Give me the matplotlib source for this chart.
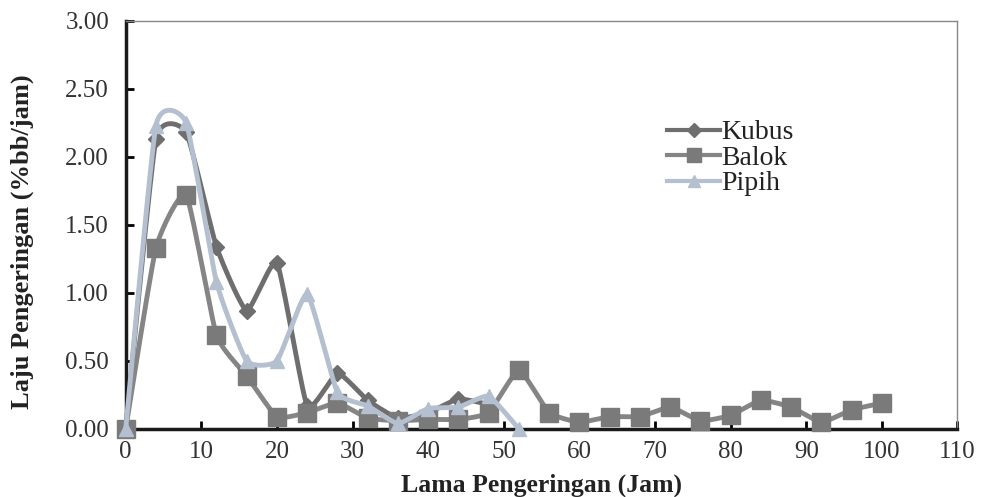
import numpy as np
import matplotlib
matplotlib.use("Agg")
import matplotlib.pyplot as plt
from matplotlib.lines import Line2D

# Data
kubus_x = [0, 4, 8, 12, 16, 20, 24, 28, 32, 36, 40, 44, 48]
kubus_y = [0.00, 2.13, 2.18, 1.34, 0.87, 1.22, 0.17, 0.41, 0.21, 0.08, 0.12, 0.22, 0.18]
balok_x = [0, 4, 8, 12, 16, 20, 24, 28, 32, 36, 40, 44, 48, 52, 56, 60, 64, 68, 72,
           76, 80, 84, 88, 92, 96, 100]
balok_y = [0.00, 1.33, 1.72, 0.69, 0.39, 0.09, 0.12, 0.19, 0.08, 0.06, 0.07, 0.07, 0.12,
           0.43, 0.12, 0.05, 0.09, 0.09, 0.16, 0.06, 0.10, 0.21, 0.16, 0.05, 0.14, 0.19]
pipih_x = [0, 4, 8, 12, 16, 20, 24, 28, 32, 36, 40, 44, 48, 52]
pipih_y = [0.00, 2.23, 2.25, 1.08, 0.50, 0.50, 0.99, 0.27, 0.17, 0.04, 0.15, 0.16, 0.24, 0.00]

xticks = list(range(0, 111, 10))
yticks = [0.0, 0.5, 1.0, 1.5, 2.0, 2.5, 3.0]


def smooth(x, y, n=30, t=0.16):
    """Bezier curve through the points (like spreadsheet smoothed lines)."""
    x = np.asarray(x, float); y = np.asarray(y, float)
    px = np.concatenate([[x[0]], x, [x[-1]]])
    py = np.concatenate([[y[0]], y, [y[-1]]])
    xs, ys = [], []
    for i in range(1, len(px) - 2):
        p0 = np.array([px[i - 1], py[i - 1]]); p1 = np.array([px[i], py[i]])
        p2 = np.array([px[i + 1], py[i + 1]]); p3 = np.array([px[i + 2], py[i + 2]])
        c1 = p1 + (p2 - p0) * t / 2.0
        c2 = p2 - (p3 - p1) * t / 2.0
        s = np.linspace(0, 1, n)[:, None]
        b = ((1 - s) ** 3) * p1 + 3 * ((1 - s) ** 2) * s * c1 + 3 * (1 - s) * s ** 2 * c2 + s ** 3 * p2
        xs.extend(b[:, 0]); ys.extend(b[:, 1])
    return np.array(xs), np.array(ys)


plt.rcParams['font.family'] = ['Liberation Serif', 'DejaVu Serif']

fig = plt.figure(figsize=(9.82, 4.97), dpi=100)
ax = fig.add_axes([0.128, 0.137, 0.847, 0.821])

c_kubus = '#6e6e6e'
c_balok = '#858585'
c_balok_m = '#7a7a7a'
c_pipih = '#b4bfcf'

series = [
    (kubus_x, kubus_y, c_kubus, c_kubus, 'D', 8.5, 'Kubus'),
    (balok_x, balok_y, c_balok, c_balok_m, 's', 12.5, 'Balok'),
    (pipih_x, pipih_y, c_pipih, c_pipih, '^', 10.5, 'Pipih'),
]
handles = []
for i, (x, y, lc, mc, m, ms, lab) in enumerate(series):
    sx, sy = smooth(x, y)
    ax.plot(sx, sy, color=lc, lw=3.5, zorder=2 + i, solid_capstyle='round', clip_on=False)
    ax.plot(x, y, ls='none', marker=m, ms=ms, color=mc, mec=mc, zorder=2 + i, clip_on=False)
    handles.append(Line2D([0], [0], color=lc, lw=3.0, marker=m, ms=ms * 0.85, mfc=mc, mec=mc))

ax.set_xlim(0, 110)
ax.set_ylim(0, 3.0)
ax.set_xticks(xticks)
ax.set_xticklabels([str(v) for v in xticks])
ax.set_yticks(yticks)
ax.set_yticklabels([f"{v:.2f}" for v in yticks])
ax.tick_params(direction='in', length=6, width=2, labelsize=18, colors='black',
               labelcolor='#333333')
ax.tick_params(axis='x', pad=9)
ax.tick_params(axis='y', pad=12)

for s in ['left', 'bottom']:
    ax.spines[s].set_linewidth(2.5)
    ax.spines[s].set_color('#1a1a1a')
for s in ['top', 'right']:
    ax.spines[s].set_linewidth(1.0)
    ax.spines[s].set_color('#888888')

ax.set_xlabel('Lama Pengeringan (Jam)', fontsize=18.5, fontweight='bold', labelpad=7, color='#222222')
ax.set_ylabel('Laju Pengeringan (%bb/jam)', fontsize=19, fontweight='bold', color='#222222')
ax.yaxis.set_label_coords(-0.11, 0.46)

leg = ax.legend(handles, ['Kubus', 'Balok', 'Pipih'], loc='upper left',
                bbox_to_anchor=(0.651, 0.757), frameon=False, fontsize=20,
                handlelength=1.9, handletextpad=0.05, labelspacing=0.0, borderpad=0,
                borderaxespad=0)
for t in leg.get_texts():
    t.set_color('#222222')

fig.savefig('out.png', dpi=100)
